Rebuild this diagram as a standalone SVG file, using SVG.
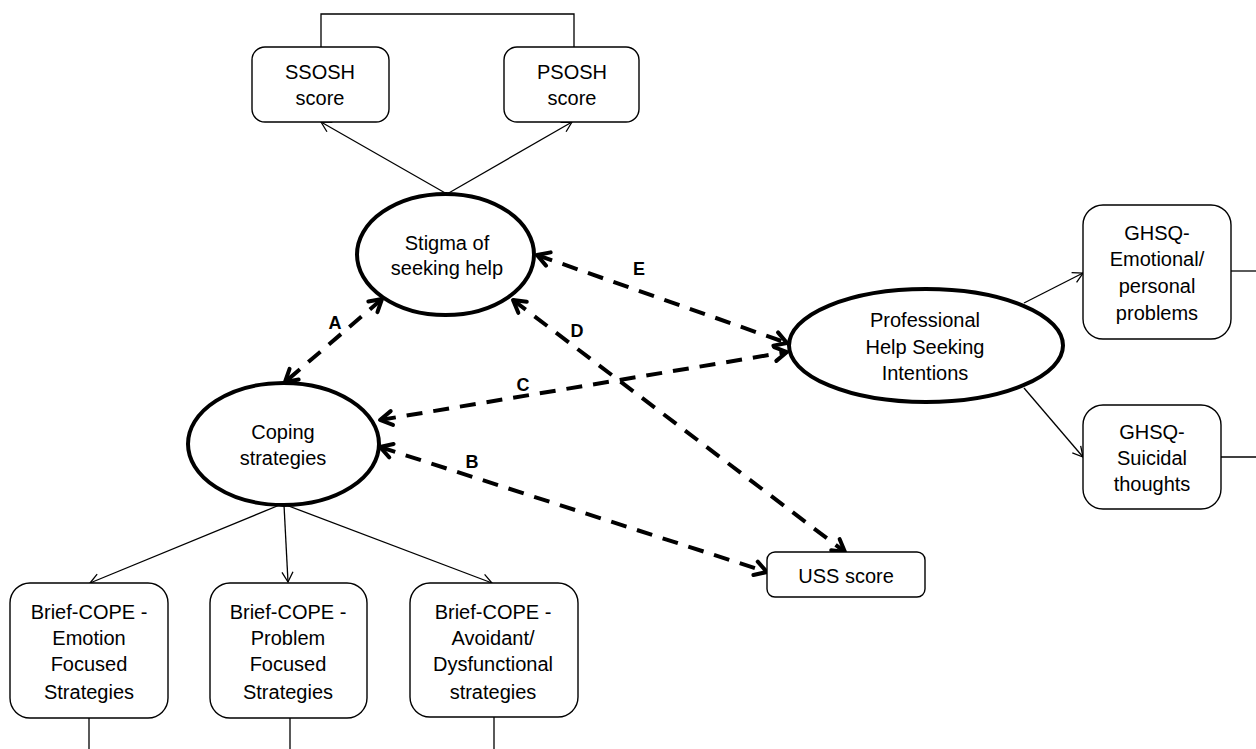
<svg xmlns="http://www.w3.org/2000/svg" width="1256" height="749" viewBox="0 0 1256 749">
<defs>
<marker id="ah" markerUnits="userSpaceOnUse" markerWidth="20" markerHeight="20" viewBox="-14 -10 18 20" refX="0" refY="0" orient="auto-start-reverse" overflow="visible">
<path d="M-12,-7 L0,0 L-12,7" fill="none" stroke="#000" stroke-width="4" stroke-dasharray="none" stroke-linecap="round" stroke-linejoin="round"/>
</marker>
<marker id="th" markerUnits="userSpaceOnUse" markerWidth="14" markerHeight="14" viewBox="-12 -7 14 14" refX="0" refY="0" orient="auto" overflow="visible">
<path d="M-10,-5.5 L0,0 L-10,5.5" fill="none" stroke="#000" stroke-width="1.3" stroke-dasharray="none"/>
</marker>
</defs>
<style>
.box{fill:#fff;stroke:#000;stroke-width:1.4}
.lat{fill:#fff;stroke:#000;stroke-width:4}
.t{font-family:"Liberation Sans",Arial,sans-serif;font-size:20px;fill:#000;text-anchor:middle}
.lbl{font-family:"Liberation Sans",Arial,sans-serif;font-size:18px;font-weight:bold;fill:#000;text-anchor:middle}
.sol{fill:none;stroke:#000;stroke-width:1.3}
.dash{fill:none;stroke:#000;stroke-width:4;stroke-dasharray:16 11}
</style>
<rect width="1256" height="749" fill="#fff"/>
<g id="connectors">
<polyline class="sol" points="321,47 321,14 574,14 574,47"/>
<line class="sol" x1="447" y1="194" x2="321" y2="122" marker-end="url(#th)"/>
<line class="sol" x1="447" y1="194" x2="572" y2="122" marker-end="url(#th)"/>
<line class="sol" x1="1024" y1="303" x2="1083" y2="273" marker-end="url(#th)"/>
<line class="sol" x1="1024" y1="388" x2="1083" y2="457" marker-end="url(#th)"/>
<line class="sol" x1="282" y1="504" x2="90" y2="583" marker-end="url(#th)"/>
<line class="sol" x1="284" y1="505" x2="288" y2="582" marker-end="url(#th)"/>
<line class="sol" x1="286" y1="505" x2="492" y2="583" marker-end="url(#th)"/>
<line class="sol" x1="1231" y1="271" x2="1256" y2="271"/>
<line class="sol" x1="1221" y1="457" x2="1256" y2="457"/>
<line class="sol" x1="89" y1="718" x2="89" y2="749"/>
<line class="sol" x1="290" y1="718" x2="290" y2="749"/>
<line class="sol" x1="494" y1="717" x2="494" y2="749"/>
<line class="dash" x1="382" y1="299" x2="285" y2="382" marker-start="url(#ah)" marker-end="url(#ah)"/>
<line class="dash" x1="537" y1="255" x2="787" y2="343" marker-start="url(#ah)" marker-end="url(#ah)"/>
<line class="dash" x1="380" y1="420" x2="787" y2="352" marker-start="url(#ah)" marker-end="url(#ah)"/>
<line class="dash" x1="513" y1="300" x2="845" y2="552" marker-start="url(#ah)" marker-end="url(#ah)"/>
<line class="dash" x1="380" y1="447" x2="767" y2="572" marker-start="url(#ah)" marker-end="url(#ah)"/>
<text class="lbl" x="335" y="329">A</text>
<text class="lbl" x="472" y="468">B</text>
<text class="lbl" x="523" y="391">C</text>
<text class="lbl" x="577" y="337">D</text>
<text class="lbl" x="639" y="275">E</text>
</g>
<g id="ssosh">
<rect class="box" x="252" y="47" width="137" height="75" rx="13"/>
<text class="t" x="320" y="79">SSOSH</text>
<text class="t" x="320" y="105">score</text>
</g>
<g id="psosh">
<rect class="box" x="504" y="47" width="135" height="75" rx="13"/>
<text class="t" x="572" y="79">PSOSH</text>
<text class="t" x="572" y="105">score</text>
</g>
<g id="stigma">
<ellipse class="lat" cx="445.5" cy="254.5" rx="88.5" ry="60.5"/>
<text class="t" x="447" y="250">Stigma of</text>
<text class="t" x="447" y="275">seeking help</text>
</g>
<g id="coping">
<ellipse class="lat" cx="283.5" cy="444" rx="95.5" ry="61"/>
<text class="t" x="283" y="439">Coping</text>
<text class="t" x="283" y="465">strategies</text>
</g>
<g id="professional">
<ellipse class="lat" cx="926" cy="345.5" rx="137" ry="56.5"/>
<text class="t" x="925" y="327">Professional</text>
<text class="t" x="925" y="354">Help Seeking</text>
<text class="t" x="925" y="380">Intentions</text>
</g>
<g id="ghsq-emotional">
<rect class="box" x="1083" y="205" width="148" height="134" rx="20"/>
<text class="t" x="1157" y="240">GHSQ-</text>
<text class="t" x="1157" y="266">Emotional/</text>
<text class="t" x="1157" y="293">personal</text>
<text class="t" x="1157" y="320">problems</text>
</g>
<g id="ghsq-suicidal">
<rect class="box" x="1083" y="405" width="138" height="104" rx="20"/>
<text class="t" x="1152" y="439">GHSQ-</text>
<text class="t" x="1152" y="465">Suicidal</text>
<text class="t" x="1152" y="491">thoughts</text>
</g>
<g id="uss">
<rect class="box" x="767" y="552" width="158" height="45" rx="8"/>
<text class="t" x="846" y="583">USS score</text>
</g>
<g id="cope-emotion">
<rect class="box" x="10" y="583" width="158" height="135" rx="20"/>
<text class="t" x="89" y="619">Brief-COPE -</text>
<text class="t" x="89" y="645">Emotion</text>
<text class="t" x="89" y="671">Focused</text>
<text class="t" x="89" y="699">Strategies</text>
</g>
<g id="cope-problem">
<rect class="box" x="210" y="583" width="157" height="135" rx="20"/>
<text class="t" x="288" y="619">Brief-COPE -</text>
<text class="t" x="288" y="645">Problem</text>
<text class="t" x="288" y="671">Focused</text>
<text class="t" x="288" y="699">Strategies</text>
</g>
<g id="cope-avoidant">
<rect class="box" x="410" y="583" width="168" height="134" rx="20"/>
<text class="t" x="493" y="619">Brief-COPE -</text>
<text class="t" x="493" y="645">Avoidant/</text>
<text class="t" x="493" y="671">Dysfunctional</text>
<text class="t" x="493" y="699">strategies</text>
</g>
</svg>
